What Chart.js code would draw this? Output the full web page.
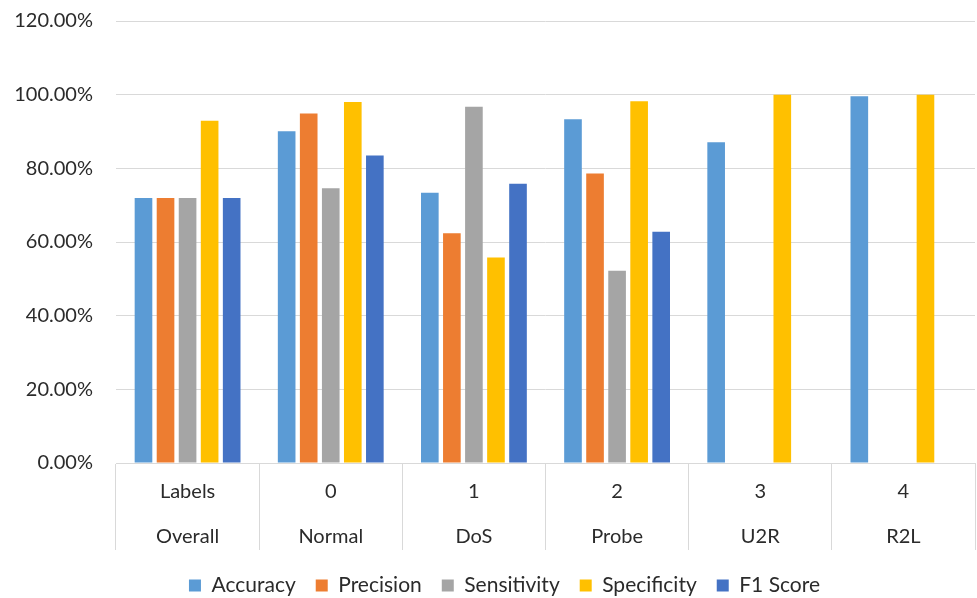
<!DOCTYPE html>
<html>
<head>
<meta charset="utf-8">
<script src="https://cdn.jsdelivr.net/npm/chart.js@4/dist/chart.umd.min.js"></script>
<style>
  body { margin: 0; background: #fff; }
  #wrap { width: 977px; height: 598px; }
</style>
</head>
<body>
<div id="wrap"><canvas id="chart"></canvas></div>
<script>
// categories: class code on first row, class name on second row
var codes = ["Labels", "0", "1", "2", "3", "4"];
var names = ["Overall", "Normal", "DoS", "Probe", "U2R", "R2L"];

var accuracy    = [0.7195, 0.901, 0.734, 0.933, 0.871, 0.996];
var precision   = [0.7195, 0.949, 0.624, 0.786, 0, 0];
var sensitivity = [0.7195, 0.746, 0.967, 0.522, 0, 0];
var specificity = [0.929, 0.980, 0.558, 0.982, 1.0, 1.0];
var f1score     = [0.7195, 0.835, 0.758, 0.628, 0, 0];

var yTicks = [0, 0.2, 0.4, 0.6, 0.8, 1.0, 1.2];

var textColor = "#2b2b2b";
var lineColor = "#d9d9d9";
var fontFamily = "Lato, 'Open Sans', sans-serif";

var labels = codes.map(function (c, i) { return [c, names[i]]; });

function series(name, values, color) {
  return {
    label: name,
    data: values,
    backgroundColor: color,
    borderWidth: 0,
    categoryPercentage: 0.77,
    barPercentage: 0.8
  };
}

// excel puts the legend a little right of the page centre
var nudgeLegend = {
  id: "nudgeLegend",
  afterLayout: function (chart) {
    chart.legend.left += 17;
    chart.legend.right += 17;
  }
};

new Chart(document.getElementById("chart"), {
  type: "bar",
  data: {
    labels: labels,
    datasets: [
      series("Accuracy", accuracy, "#5B9BD5"),
      series("Precision", precision, "#ED7D31"),
      series("Sensitivity", sensitivity, "#A5A5A5"),
      series("Specificity", specificity, "#FFC000"),
      series("F1 Score", f1score, "#4472C4")
    ]
  },
  plugins: [nudgeLegend],
  options: {
    responsive: true,
    maintainAspectRatio: false,
    animation: false,
    layout: { padding: { left: 0, right: 2, top: 21, bottom: -8 } },
    plugins: {
      tooltip: { enabled: false },
      legend: {
        position: "bottom",
        labels: {
          color: textColor,
          font: { family: fontFamily, size: 21 },
          boxWidth: 12,
          boxHeight: 12,
          padding: 20
        }
      }
    },
    scales: {
      x: {
        grid: {
          offset: true,
          drawOnChartArea: false,
          color: lineColor,
          tickLength: 87
        },
        border: { display: true, color: lineColor },
        ticks: {
          color: textColor,
          font: { family: fontFamily, size: 20, lineHeight: 2.25 },
          padding: -80.5,
          maxRotation: 0,
          autoSkip: false
        },
        afterFit: function (scale) { scale.height = 92; }
      },
      y: {
        min: 0,
        max: 1.2,
        afterBuildTicks: function (scale) {
          scale.ticks = yTicks.map(function (v) { return { value: v }; });
        },
        grid: { color: lineColor, tickColor: "rgba(0,0,0,0)", tickLength: 20 },
        border: { display: false },
        ticks: {
          color: textColor,
          font: { family: fontFamily, size: 20 },
          padding: 3,
          callback: function (v) { return (v * 100).toFixed(2) + "%"; }
        },
        afterFit: function (scale) { scale.width = 116; }
      }
    }
  }
});
</script>
</body>
</html>
